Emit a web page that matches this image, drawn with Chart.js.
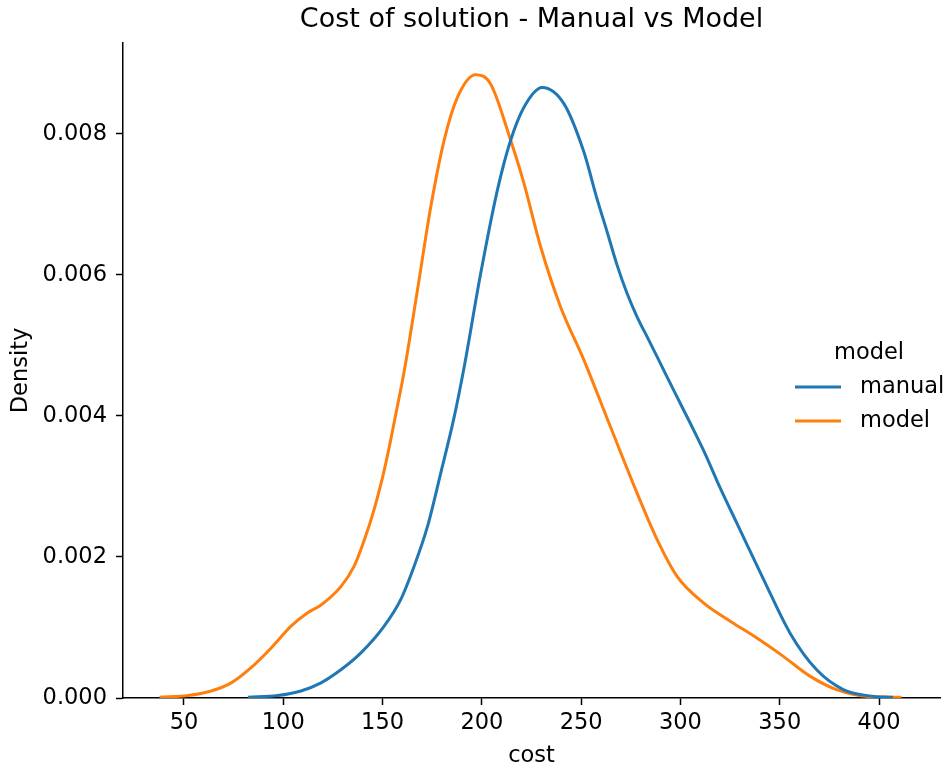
<!DOCTYPE html>
<html>
<head>
<meta charset="utf-8">
<script src="https://cdn.jsdelivr.net/npm/chart.js@4"></script>
<style>
  html, body { margin: 0; padding: 0; background: #fff; }
  #wrap { width: 945px; height: 768px; }
</style>
</head>
<body>
<div id="wrap"><canvas id="kde"></canvas></div>
<script>
// data (cost -> density)
const manualCost = [82.2, 97.2, 108.9, 119, 129, 139.1, 150.8, 159.2, 165.9, 172.6, 179.3, 186.1, 191, 199.4, 207.8, 214.5, 221.2, 230.4, 241.3, 251.3, 258, 263.1, 268.1, 273.1, 278.1, 284, 290.7, 297.4, 304.9, 312.5, 320, 328.4, 341.9, 355.2, 368.6, 382, 395, 407];
const manualDensity = [0.00001, 0.000035, 0.0001, 0.000215, 0.0004, 0.00064, 0.00102, 0.0014, 0.00187, 0.00243, 0.00319, 0.00399, 0.00468, 0.00602, 0.0072, 0.00791, 0.00838, 0.00866, 0.00843, 0.00775, 0.00708, 0.00661, 0.00614, 0.00574, 0.00541, 0.00508, 0.0047, 0.00432, 0.0039, 0.00346, 0.00298, 0.00248, 0.00168, 0.00092, 0.0004, 0.00012, 0.00003, 0.00001];

const modelCost = [37.7, 52, 63.7, 73.8, 83.8, 93.9, 103.9, 112.3, 119, 129, 135.7, 140.8, 145.8, 150, 153.3, 156.7, 160.8, 167.6, 174.3, 181, 187.7, 196.9, 204.4, 214.5, 221.2, 229.6, 239.6, 251.3, 264.7, 278.1, 288.2, 298.2, 311.6, 325.1, 338.5, 351.8, 365.2, 378.6, 395.4, 411.3];
const modelDensity = [0.00001, 0.000035, 0.0001, 0.000215, 0.00043, 0.00071, 0.00102, 0.00121, 0.00132, 0.00158, 0.00187, 0.00224, 0.00268, 0.00313, 0.00355, 0.00403, 0.00462, 0.00579, 0.00697, 0.00791, 0.00852, 0.00884, 0.00871, 0.00791, 0.0073, 0.0064, 0.00555, 0.0048, 0.00385, 0.00291, 0.00225, 0.00173, 0.00135, 0.00109, 0.00085, 0.00059, 0.00031, 0.00012, 0.00002, 0.00001];

const seriesNames = ["manual", "model"];
const seriesColors = ["#1f77b4", "#ff7f0e"];
const xTicks = [50, 100, 150, 200, 250, 300, 350, 400];
const yTicks = [0, 0.002, 0.004, 0.006, 0.008];

const FONT = "'DejaVu Sans', sans-serif";
const TXT = 22.5;

const toPoints = (xs, ys) => xs.map((x, i) => ({ x: x, y: ys[i] }));

// matplotlib-style legend with a title, sitting on the right
const sideLegend = {
  id: 'sideLegend',
  afterDraw(chart) {
    const ctx = chart.ctx;
    ctx.save();
    ctx.fillStyle = '#000';
    ctx.font = TXT + "px " + FONT;
    ctx.textBaseline = 'middle';
    ctx.textAlign = 'center';
    ctx.fillText('model', 869, 353);
    ctx.textAlign = 'left';
    seriesNames.forEach((name, i) => {
      const y = 387 + i * 34;
      ctx.strokeStyle = seriesColors[i];
      ctx.lineWidth = 3;
      ctx.beginPath();
      ctx.moveTo(795, y);
      ctx.lineTo(841, y);
      ctx.stroke();
      ctx.fillText(name, 860, y);
    });
    ctx.restore();
  }
};

const ctx = document.getElementById('kde').getContext('2d');
const chart = new Chart(ctx, {
  type: 'line',
  data: {
    datasets: [
      {
        label: seriesNames[0],
        data: toPoints(manualCost, manualDensity),
        borderColor: seriesColors[0],
        borderWidth: 3,
        pointRadius: 0,
        cubicInterpolationMode: 'monotone',
        fill: false
      },
      {
        label: seriesNames[1],
        data: toPoints(modelCost, modelDensity),
        borderColor: seriesColors[1],
        borderWidth: 3,
        pointRadius: 0,
        cubicInterpolationMode: 'monotone',
        fill: false
      }
    ]
  },
  options: {
    responsive: true,
    maintainAspectRatio: false,
    animation: false,
    layout: { padding: { left: 0, right: 5, top: 0, bottom: 0 } },
    plugins: {
      legend: { display: false },
      tooltip: { enabled: false },
      title: {
        display: true,
        fullSize: false,
        text: 'Cost of solution - Manual vs Model',
        color: '#000',
        font: { family: FONT, size: 27, weight: 'normal' },
        padding: { top: 4, bottom: 6.6 }
      }
    },
    scales: {
      x: {
        type: 'linear',
        min: 19.3,
        max: 430.7,
        afterBuildTicks: s => { s.ticks = xTicks.map(v => ({ value: v })); },
        afterFit: s => { s.height = 70; },
        border: { color: '#000', width: 1.5 },
        grid: { drawOnChartArea: false, tickColor: '#000', tickWidth: 1.5, tickLength: 7 },
        ticks: { color: '#000', font: { family: FONT, size: TXT }, padding: 5, maxRotation: 0 },
        title: { display: true, text: 'cost', color: '#000', font: { family: FONT, size: TXT }, padding: { top: 0, bottom: -2 } }
      },
      y: {
        min: 0,
        max: 0.00929,
        afterBuildTicks: s => { s.ticks = yTicks.map(v => ({ value: v })); },
        afterFit: s => { s.width = 123; },
        border: { color: '#000', width: 1.5 },
        grid: { drawOnChartArea: false, tickColor: '#000', tickWidth: 1.5, tickLength: 7 },
        ticks: { color: '#000', font: { family: FONT, size: TXT }, padding: 9, callback: v => v.toFixed(3) },
        title: { display: true, text: 'Density', color: '#000', font: { family: FONT, size: TXT }, padding: { top: 8, bottom: 0 } }
      }
    }
  },
  plugins: [sideLegend]
});
</script>
</body>
</html>
